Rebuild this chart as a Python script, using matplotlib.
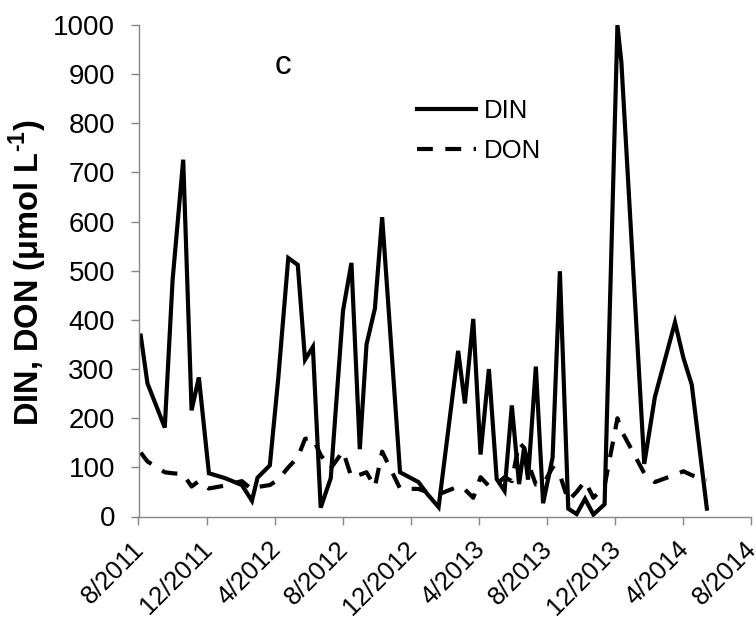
import matplotlib
matplotlib.use('Agg')
import matplotlib.pyplot as plt
import matplotlib.dates as mdates
import matplotlib.transforms as mtransforms
import pandas as pd

plt.rcParams['font.family'] = ['Liberation Sans', 'DejaVu Sans']
plt.rcParams['mathtext.fontset'] = 'custom'
plt.rcParams['mathtext.rm'] = 'Liberation Sans'
plt.rcParams['mathtext.bf'] = 'Liberation Sans:bold'

# sampling dates
dates = ['2011-08-05', '2011-08-17', '2011-09-17', '2011-10-01', '2011-10-20',
         '2011-11-04', '2011-11-17', '2011-12-05', '2012-01-03', '2012-02-02',
         '2012-02-20', '2012-03-01', '2012-03-23', '2012-04-07', '2012-04-25',
         '2012-05-12', '2012-05-25', '2012-06-08', '2012-06-22', '2012-07-10',
         '2012-08-01', '2012-08-16', '2012-08-31', '2012-09-12', '2012-09-27',
         '2012-10-10', '2012-11-11', '2012-12-14', '2012-12-29', '2013-01-19',
         '2013-02-23', '2013-03-07', '2013-03-22', '2013-04-04', '2013-04-19',
         '2013-05-03', '2013-05-17', '2013-05-30', '2013-06-12', '2013-06-21',
         '2013-06-28', '2013-07-12', '2013-07-25', '2013-08-11', '2013-08-24',
         '2013-09-08', '2013-09-23', '2013-10-08', '2013-10-23', '2013-11-12',
         '2013-12-05', '2013-12-12', '2014-01-22', '2014-02-10', '2014-03-18',
         '2014-04-02', '2014-04-17', '2014-05-14']

din = [368, 271, 181, 481, 726, 216, 283, 88, 78, 64,
       32, 79, 104, 280, 526, 512, 319, 345, 18, 78,
       419, 516, 137, 350, 423, 609, 90, 70, 47, 19,
       337, 230, 402, 126, 300, 76, 52, 226, 66, 140,
       75, 305, 27, 120, 499, 16, 5, 36, 4, 25,
       1000, 925, 107, 243, 395, 323, 268, 16]

don = [130, 112, 90, 88, 86, 61, 72, 57, 63, 72,
       55, 60, 64, 75, 100, 120, 158, 160, 125, 98,
       133, 80, 85, 90, 60, 132, 57, 56, 50, 45,
       61, 55, 38, 80, 62, 66, 80, 72, 150, 140,
       110, 65, 65, 100, 85, 32, 50, 72, 38, 62,
       200, 175, 88, 70, 85, 92, 84, 75]

x_ticks = pd.date_range('2011-08-01', '2014-08-01', freq='4MS')
y_ticks = list(range(0, 1001, 100))

x = pd.to_datetime(dates)

fig = plt.figure(figsize=(7.56, 6.23), dpi=100)
ax = fig.add_axes([138.5 / 756, 1 - 516.5 / 623, 612.5 / 756, 491.5 / 623])

ax.plot(x, din, color='black', lw=3.0, label='DIN', solid_joinstyle='miter')
ax.plot(x, don, color='black', lw=3.0, dashes=(3.8, 3.0), label='DON')

ax.set_xlim(pd.Timestamp('2011-08-01'), pd.Timestamp('2014-08-01'))
ax.set_ylim(0, 1000)
ax.set_yticks(y_ticks)
ax.set_xticks(x_ticks)
ax.xaxis.set_major_formatter(
    matplotlib.ticker.FuncFormatter(lambda v, p: f"{mdates.num2date(v).month}/{mdates.num2date(v).year}"))

grey = '#868686'
for s in ['top', 'right']:
    ax.spines[s].set_visible(False)
for s in ['left', 'bottom']:
    ax.spines[s].set_color(grey)
    ax.spines[s].set_linewidth(1.0)
ax.tick_params(axis='both', colors=grey, length=6, width=1.0, labelsize=20,
               labelcolor='black', direction='out')
ax.tick_params(axis='y', pad=11)
ax.tick_params(axis='x', labelsize=18.5)

# rotated date labels: end of text sits just under the tick
offset = mtransforms.ScaledTranslation(2 / 100, -16 / 100, fig.dpi_scale_trans)
for lab in ax.get_xticklabels():
    lab.set_rotation(45)
    lab.set_ha('right')
    lab.set_va('center')
    lab.set_rotation_mode('anchor')
    lab.set_transform(lab.get_transform() + offset)

fig.text(28 / 756, 1 - 273 / 623, 'DIN, DON (μmol L$^{\\mathbf{‐1}}$)', rotation=90,
         fontsize=23.5, fontweight='bold', ha='center', va='center')

ax.text(283 / 756, 1 - 66 / 623, 'c', transform=fig.transFigure, fontsize=24,
        ha='center', va='center')

ax.legend(loc='upper left', bbox_to_anchor=(394 / 756, 1 - 76 / 623),
          bbox_transform=fig.transFigure, frameon=False, fontsize=18.5,
          handlelength=2.3, handletextpad=0.3, labelspacing=0.6)

fig.savefig('out.png', dpi=100)
